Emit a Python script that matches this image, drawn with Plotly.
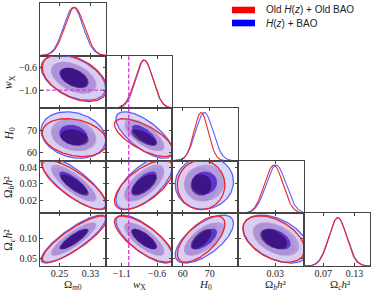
import numpy as np
import plotly.graph_objects as go

# ---------------- data ----------------
param_labels = ["Ω<sub><i>m</i>0</sub>", "<i>w</i><sub>X</sub>", "<i>H</i><sub>0</sub>",
                "Ω<sub><i>b</i></sub><i>h</i>²", "Ω<sub><i>c</i></sub><i>h</i>²"]

dataset_names = ["Old <i>H</i>(<i>z</i>) + Old BAO", "<i>H</i>(<i>z</i>) + BAO"]

# Old H(z) + Old BAO (red)
old_mean = [0.289, -0.785, 66.8, 0.0293, 0.098]
old_sigma = [0.025, 0.125, 2.65, 0.0045, 0.0168]
old_corr = [[1.00, -0.45, -0.25, -0.80, 0.85],
            [-0.45, 1.00, -0.70, 0.65, -0.75],
            [-0.25, -0.70, 1.00, 0.00, 0.65],
            [-0.80, 0.65, 0.00, 1.00, -0.45],
            [0.85, -0.75, 0.65, -0.45, 1.00]]

# H(z) + BAO (blue)
new_mean = [0.286, -0.780, 68.0, 0.0305, 0.098]
new_sigma = [0.025, 0.120, 3.25, 0.0048, 0.0174]
new_corr = [[1.00, -0.45, -0.20, -0.80, 0.85],
            [-0.45, 1.00, -0.70, 0.65, -0.75],
            [-0.20, -0.70, 1.00, 0.05, 0.65],
            [-0.80, 0.65, 0.05, 1.00, -0.45],
            [0.85, -0.75, 0.65, -0.45, 1.00]]

wX_ref = -1.0  # reference value (dashed line)

# axis ranges and ticks
axis_ranges = [[0.20, 0.37], [-1.32, -0.39], [56.0, 80.5], [0.012, 0.044], [0.033, 0.160]]
x_tickvals = [[0.25, 0.33], [-1.1, -0.6], [60, 70], [0.03], [0.07, 0.13]]
x_ticktext = [["0.25", "0.33"], ["−1.1", "−0.6"], ["60", "70"], ["0.03"], ["0.07", "0.13"]]
y_tickvals = [[], [-1.0, -0.6], [60, 70], [0.02, 0.03, 0.04], [0.05, 0.10]]
y_ticktext = [[], ["−1.0", "−0.6"], ["60", "70"], ["0.02", "0.03", "0.04"], ["0.05", "0.10"]]

# ---------------- styling ----------------
W, H = 374, 291
col_x = [40, 106, 172, 238, 304, 370]
row_y = [3, 55.6, 108.2, 160.8, 213.4, 266]
title_x = [73, 139, 205, 276, 340]
levels_r = [3.33, 2.33, 1.46]  # contour radii (outer -> inner)

red_fills = ["rgba(230,120,170,0.10)", "rgba(170,90,170,0.17)", "rgba(40,0,90,0.60)"]
blue_fills = ["rgba(100,100,235,0.25)", "rgba(100,80,200,0.38)", "rgba(45,20,210,0.85)"]
red_line = "rgb(240,35,35)"
blue_line = "rgb(95,95,250)"
frame_col = "#444444"
tick_font = dict(family="Liberation Serif, DejaVu Serif, serif", size=10, color="#222")

datasets = [
    dict(mean=new_mean, sigma=new_sigma, corr=new_corr, fills=blue_fills, line=blue_line),
    dict(mean=old_mean, sigma=old_sigma, corr=old_corr, fills=red_fills, line=red_line),
]

fig = go.Figure()
layout = {}
panel_axes = {}
k = 0
for i in range(5):
    for j in range(i + 1):
        k += 1
        suf = "" if k == 1 else str(k)
        panel_axes[(i, j)] = ("x" + suf, "y" + suf)
        x0, x1 = col_x[j], col_x[j + 1]
        y0, y1 = row_y[i], row_y[i + 1]
        xa = dict(domain=[x0 / W, x1 / W], range=axis_ranges[j], anchor="y" + suf,
                  showline=True, linecolor=frame_col, linewidth=1, mirror="ticks",
                  ticks="inside", ticklen=3, tickcolor=frame_col, tickwidth=1,
                  tickvals=x_tickvals[j], ticktext=x_ticktext[j],
                  showticklabels=(i == 4), tickfont=tick_font, ticklabelstandoff=-2,
                  showgrid=False, zeroline=False, fixedrange=True)
        if i == j:
            ya = dict(domain=[(H - y1) / H, (H - y0) / H], range=[0, 1.09], anchor="x" + suf,
                      showline=True, linecolor=frame_col, linewidth=1, mirror=True,
                      ticks="", showticklabels=False, showgrid=False, zeroline=False,
                      fixedrange=True)
        else:
            ya = dict(domain=[(H - y1) / H, (H - y0) / H], range=axis_ranges[i], anchor="x" + suf,
                      showline=True, linecolor=frame_col, linewidth=1, mirror="ticks",
                      ticks="inside", ticklen=3, tickcolor=frame_col, tickwidth=1,
                      tickvals=y_tickvals[i], ticktext=y_ticktext[i],
                      showticklabels=(j == 0), tickfont=tick_font,
                      showgrid=False, zeroline=False, fixedrange=True)
        layout["xaxis" + suf] = xa
        layout["yaxis" + suf] = ya

t = np.linspace(0, 2 * np.pi, 160)
circle = np.vstack([np.cos(t), np.sin(t)])

def ellipse(ds, j, i, r):
    s = ds["sigma"]
    c = ds["corr"][i][j]
    cov = np.array([[s[j] ** 2, c * s[j] * s[i]], [c * s[j] * s[i], s[i] ** 2]])
    L = np.linalg.cholesky(cov)
    pts = L @ (r * circle)
    return pts[0] + ds["mean"][j], pts[1] + ds["mean"][i]

# fills
for ds in datasets:
    for i in range(5):
        for j in range(i):
            xr, yr = panel_axes[(i, j)]
            for lev, r in enumerate(levels_r):
                ex, ey = ellipse(ds, j, i, r)
                fig.add_trace(go.Scatter(x=ex, y=ey, xaxis=xr, yaxis=yr, mode="lines",
                                         fill="toself", fillcolor=ds["fills"][lev],
                                         line=dict(width=0), hoverinfo="skip",
                                         showlegend=False))
# outer contour lines
for ds in datasets:
    for i in range(5):
        for j in range(i):
            xr, yr = panel_axes[(i, j)]
            ex, ey = ellipse(ds, j, i, levels_r[0])
            fig.add_trace(go.Scatter(x=ex, y=ey, xaxis=xr, yaxis=yr, mode="lines",
                                     line=dict(color=ds["line"], width=1.3),
                                     hoverinfo="skip", showlegend=False))
# 1D marginals
for ds in datasets:
    for i in range(5):
        xr, yr = panel_axes[(i, i)]
        xs = np.linspace(axis_ranges[i][0], axis_ranges[i][1], 300)
        ys = np.exp(-0.5 * ((xs - ds["mean"][i]) / ds["sigma"][i]) ** 2)
        fig.add_trace(go.Scatter(x=xs, y=ys, xaxis=xr, yaxis=yr, mode="lines",
                                 line=dict(color=ds["line"], width=1.1),
                                 hoverinfo="skip", showlegend=False))

# reference dashed lines at wX = -1
dash_style = dict(color="rgba(215,50,215,0.9)", width=1.4, dash="4px,2px")
for i in range(1, 5):
    xr, yr = panel_axes[(i, 1)]
    yrange = [0, 1.09] if i == 1 else axis_ranges[i]
    fig.add_trace(go.Scatter(x=[wX_ref, wX_ref], y=yrange, xaxis=xr, yaxis=yr, mode="lines",
                             line=dash_style, hoverinfo="skip", showlegend=False))
xr, yr = panel_axes[(1, 0)]
fig.add_trace(go.Scatter(x=axis_ranges[0], y=[wX_ref, wX_ref], xaxis=xr, yaxis=yr, mode="lines",
                         line=dash_style, hoverinfo="skip", showlegend=False))

# axis titles
annotations = []
title_font = dict(family="Liberation Serif, DejaVu Serif, serif", size=11, color="#222")
for j in range(5):
    annotations.append(dict(text=param_labels[j], xref="paper", yref="paper",
                            x=title_x[j] / W, y=(H - 285) / H,
                            xanchor="center", yanchor="middle", showarrow=False, font=title_font))
for i in range(1, 5):
    yc = (row_y[i] + row_y[i + 1]) / 2
    annotations.append(dict(text=param_labels[i], xref="paper", yref="paper",
                            x=9 / W, y=(H - yc) / H, textangle=-90,
                            xanchor="center", yanchor="middle", showarrow=False,
                            font=dict(title_font, size=11.5)))

# legend (manual)
legend_font = dict(family="Liberation Sans, Arial, sans-serif", size=10, color="#222")
shapes = []
for n, (name, col, yc) in enumerate([(dataset_names[0], "rgb(255,0,0)", 10),
                                     (dataset_names[1], "rgb(0,0,255)", 23)]):
    shapes.append(dict(type="rect", xref="paper", yref="paper",
                       x0=232 / W, x1=255 / W, y0=(H - yc - 3.3) / H, y1=(H - yc + 3.3) / H,
                       fillcolor=col, line=dict(width=0)))
    annotations.append(dict(text=name, xref="paper", yref="paper", x=264 / W, y=(H - yc) / H,
                            xanchor="left", yanchor="middle", showarrow=False, font=legend_font))

fig.update_layout(width=W, height=H, margin=dict(l=0, r=0, t=0, b=0),
                  paper_bgcolor="white", plot_bgcolor="white",
                  annotations=annotations, shapes=shapes, showlegend=False, **layout)

fig.write_html("out.html", config={"displayModeBar": False},
               post_script="document.body.style.margin='0px';document.body.style.overflow='hidden';")
